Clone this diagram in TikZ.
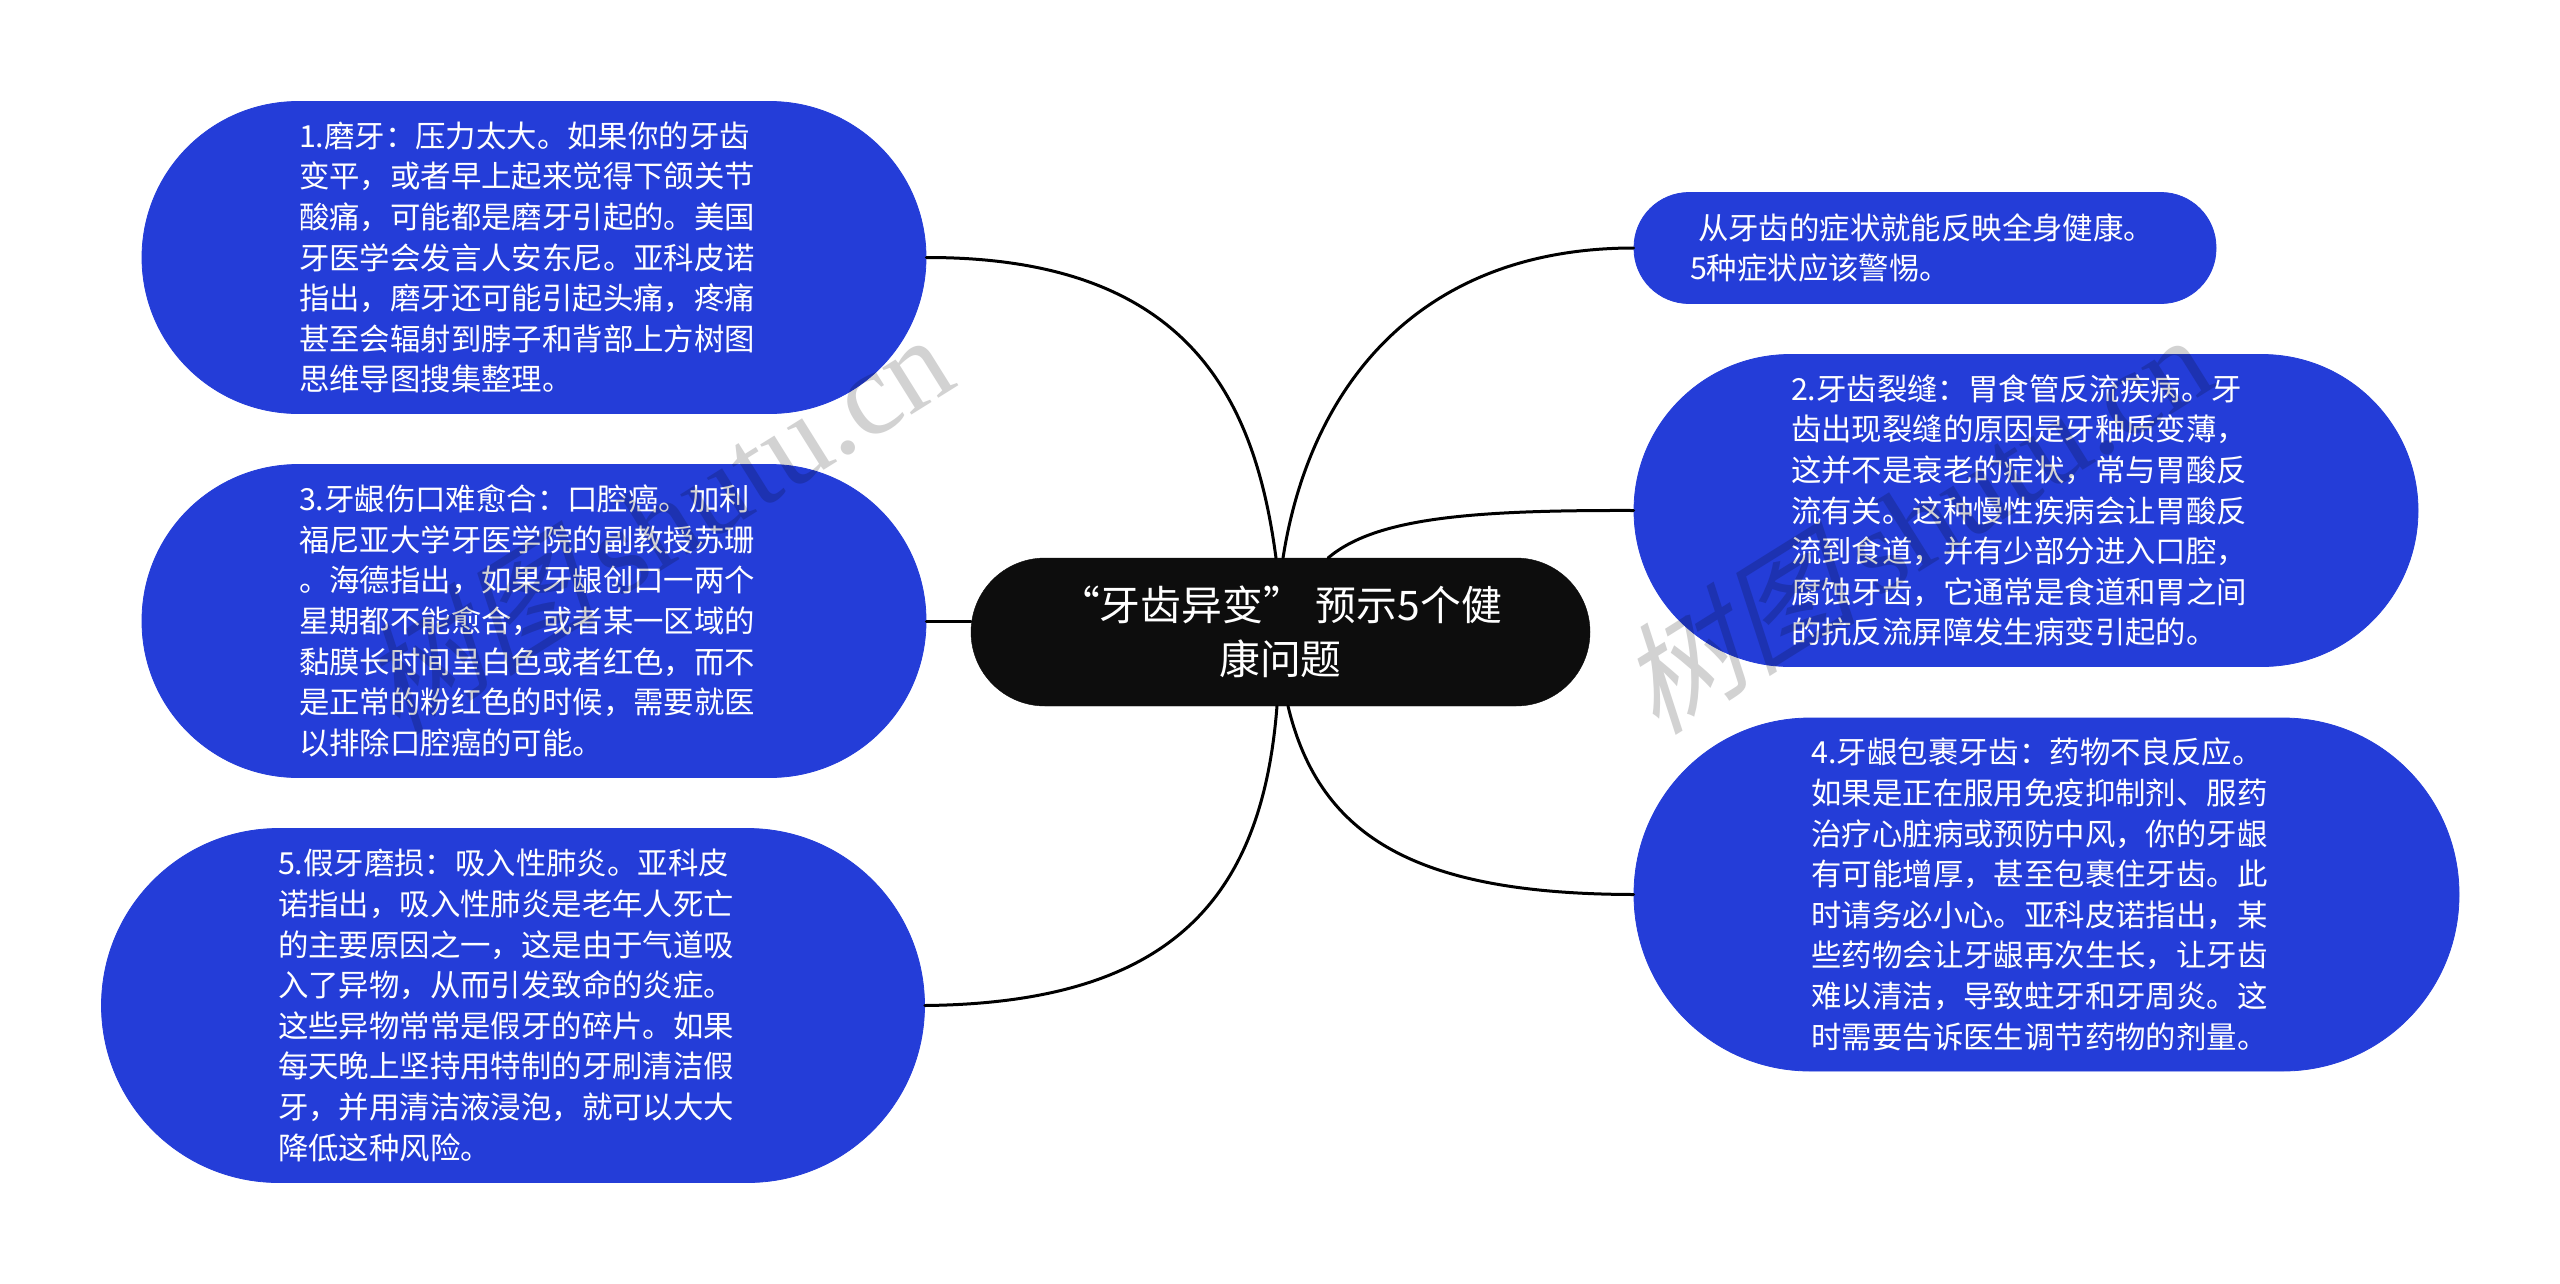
\documentclass[tikz,border=0pt]{standalone}
\usepackage{fontspec}
\setmainfont{Noto Sans CJK SC}
\newfontfamily\wmcjk[FakeSlant=0.25]{Noto Sans CJK SC}
\newfontfamily\wmlat{Liberation Serif}
\definecolor{pillblue}{HTML}{243DD8}
\definecolor{rootblack}{HTML}{0D0D0D}
\definecolor{wmgray}{HTML}{D2D2D2}
\tikzset{
  pillbase/.style={draw=pillblue,fill=pillblue,text=white,inner sep=0pt,line width=0.8pt,align=left,text width=470pt,
    font=\fontsize{30.4}{40.6}\selectfont},
  pill/.style n args={3}{pillbase,minimum width=#1 pt,minimum height=#2 pt,rounded corners=#3 pt},
  rootnode/.style={draw=rootblack,fill=rootblack,text=white,inner sep=0pt,align=center,minimum width=619pt,minimum height=148pt,
    rounded corners=74pt,font=\fontsize{40.8}{54}\selectfont},
  link/.style={draw=black,line width=3pt,line cap=round},
  wmark/.style={text=wmgray,rotate=32,inner sep=0pt,font=\fontsize{120}{120}\selectfont}
}
\begin{document}
\begin{tikzpicture}[x=1pt,y=-1pt]
\fill[white] (0,0) rectangle (2560,1283);
\useasboundingbox (0,0) rectangle (2560,1283);

\node[rootnode] (root) at (1280.5,632) {“牙齿异变”\hspace{12pt}预示5个健\\康问题};

\node[pill={784}{312}{156}] (n1) at (534,257.5) {1.磨牙：压力太大。如果你的牙齿\\变平，或者早上起来觉得下颌关节\\酸痛，可能都是磨牙引起的。美国\\牙医学会发言人安东尼。亚科皮诺\\指出，磨牙还可能引起头痛，疼痛\\甚至会辐射到脖子和背部上方树图\\思维导图搜集整理。};
\node[pill={784}{313}{156}] (n3) at (534,621) {3.牙龈伤口难愈合：口腔癌。加利\\福尼亚大学牙医学院的副教授苏珊\\。海德指出，如果牙龈创口一两个\\星期都不能愈合，或者某一区域的\\黏膜长时间呈白色或者红色，而不\\是正常的粉红色的时候，需要就医\\以排除口腔癌的可能。};
\node[pill={823}{354}{177}] (n5) at (513,1005.5) {5.假牙磨损：吸入性肺炎。亚科皮\\诺指出，吸入性肺炎是老年人死亡\\的主要原因之一，这是由于气道吸\\入了异物，从而引发致命的炎症。\\这些异物常常是假牙的碎片。如果\\每天晚上坚持用特制的牙刷清洁假\\牙，并用清洁液浸泡，就可以大大\\降低这种风险。};
\node[pill={582}{111}{55}] (na) at (1925,248) {\hspace*{8pt}从牙齿的症状就能反映全身健康。\\5种症状应该警惕。};
\node[pill={784}{312}{156}] (n2) at (2026,510.5) {2.牙齿裂缝：胃食管反流疾病。牙\\齿出现裂缝的原因是牙釉质变薄，\\这并不是衰老的症状，常与胃酸反\\流有关。这种慢性疾病会让胃酸反\\流到食道，并有少部分进入口腔，\\腐蚀牙齿，它通常是食道和胃之间\\的抗反流屏障发生病变引起的。};
\node[pill={825}{353}{176}] (n4) at (2046.5,894.5) {4.牙龈包裹牙齿：药物不良反应。\\如果是正在服用免疫抑制剂、服药\\治疗心脏病或预防中风，你的牙龈\\有可能增厚，甚至包裹住牙齿。此\\时请务必小心。亚科皮诺指出，某\\些药物会让牙龈再次生长，让牙齿\\难以清洁，导致蛀牙和牙周炎。这\\时需要告诉医生调节药物的剂量。};

\coordinate (t1) at (1276,558);
\coordinate (ta) at (1283,558);
\coordinate (t2) at (1328,558);
\coordinate (b5) at (1277,706);
\coordinate (b4) at (1288,706);
\coordinate (l3) at (root.west |- n3.east);

\draw[link] (n1.east) .. controls (1190,257) and (1255,400) .. (t1);
\draw[link] (na.west) .. controls (1420,248) and (1310,385) .. (ta);
\draw[link] (n2.west) .. controls (1470,510) and (1375,518) .. (t2);
\draw[link] (n3.east) -- (l3);
\draw[link] (n5.east) .. controls (1170,1003) and (1262,900) .. (b5);
\draw[link] (n4.west) .. controls (1420,894) and (1320,840) .. (b4);

\begin{scope}[blend mode=multiply]
\node[wmark] (wm1) at (655,522) {{\wmcjk 树图}\hspace{20pt}{\wmlat shutu.cn}};
\node[wmark] (wm2) at (1914,522) {{\wmcjk 树图}\hspace{20pt}{\wmlat shutu.cn}};
\end{scope}
\end{tikzpicture}
\end{document}
